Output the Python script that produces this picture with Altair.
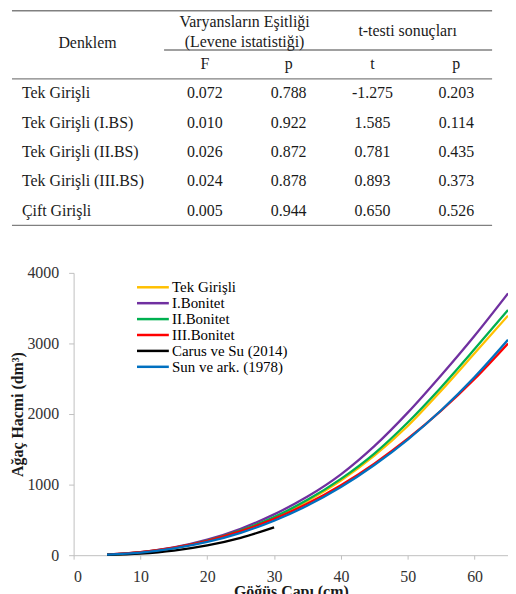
import altair as alt
import pandas as pd

# ---------------- table data ----------------
equations = ["Tek Girişli", "Tek Girişli (I.BS)", "Tek Girişli (II.BS)",
             "Tek Girişli (III.BS)", "Çift Girişli"]
levene_F = ["0.072", "0.010", "0.026", "0.024", "0.005"]
levene_p = ["0.788", "0.922", "0.872", "0.878", "0.944"]
t_values = ["-1.275", "1.585", "0.781", "0.893", "0.650"]
t_p = ["0.203", "0.114", "0.435", "0.373", "0.526"]
col_keys = ["F", "p1", "t", "p2"]
col_labels = ["F", "p", "t", "p"]

# ---------------- chart data ----------------
dbh = [5, 10, 15, 20, 25, 30, 35, 40, 45, 50, 55, 60, 65]
tek_girisli = [7, 38, 101, 201, 343, 529, 766, 1056, 1410, 1830, 2330, 2860, 3394]
bonitet_1 = [8, 42, 110, 220, 375, 578, 830, 1145, 1545, 2020, 2550, 3110, 3710]
bonitet_2 = [7, 39, 103, 206, 351, 541, 784, 1081, 1440, 1880, 2380, 2920, 3475]
bonitet_3 = [9, 42, 106, 204, 340, 514, 731, 991, 1298, 1650, 2048, 2497, 3000]
carus_dbh = [5, 10, 15, 20, 25, 30]
carus_su = [4, 23, 66, 139, 246, 394]
sun_ark = [7, 36, 95, 187, 317, 488, 703, 965, 1277, 1638, 2053, 2524, 3052]

series_names = ["Tek Girişli", "I.Bonitet", "II.Bonitet", "III.Bonitet",
                "Carus ve Su (2014)", "Sun ve ark. (1978)"]
series_colors = ["#FFC000", "#7030A0", "#00B050", "#FF0000", "#000000", "#0070C0"]

FONT = "Liberation Serif"
TXT = "#1a1a1a"
RULE = "#808080"

# ---------------- line chart (first layer: owns axes and legend) ----------------
rows = []
for name, xs, ys in [
    (series_names[0], dbh, tek_girisli),
    (series_names[1], dbh, bonitet_1),
    (series_names[2], dbh, bonitet_2),
    (series_names[3], dbh, bonitet_3),
    (series_names[4], carus_dbh, carus_su),
    (series_names[5], dbh, sun_ark),
]:
    for x, y in zip(xs, ys):
        rows.append({"series": name, "D": x, "V": y})
df = pd.DataFrame(rows)

lines = alt.Chart(df).mark_line(strokeWidth=2.3, interpolate="monotone").encode(
    x=alt.X("D:Q", scale=alt.Scale(domain=[0, 65], nice=False),
            axis=alt.Axis(orient="bottom", values=[0, 10, 20, 30, 40, 50, 60], title="Göğüs Çapı (cm)",
                          tickSize=4, labelPadding=9, titlePadding=0)),
    y=alt.Y("V:Q", scale=alt.Scale(domain=[0, 4000], nice=False),
            axis=alt.Axis(orient="left", values=[0, 1000, 2000, 3000, 4000], format="d",
                          title="Ağaç Hacmi (dm³)", tickSize=5, labelPadding=10, titlePadding=1)),
    color=alt.Color("series:N", sort=series_names,
                    scale=alt.Scale(domain=series_names, range=series_colors),
                    legend=alt.Legend(orient="none", legendX=72.3, legendY=7, title=None,
                                      symbolType="M-4,0L4,0", symbolSize=64, symbolStrokeWidth=2.5,
                                      labelFont=FONT, labelFontSize=15, labelColor="#000",
                                      labelOffset=11.7, rowPadding=0, padding=0)),
)

# ---------------- table (drawn in the space above the plot) ----------------
body_rows = []
for i, eq in enumerate(equations):
    for k, vals in zip(col_keys, [levene_F, levene_p, t_values, t_p]):
        body_rows.append({"eq": eq, "col": k, "val": vals[i]})
body_df = pd.DataFrame(body_rows)
eq_df = pd.DataFrame({"eq": equations})
sub_df = pd.DataFrame({"col": col_keys, "lab": col_labels})

xcol = alt.X("col:N", scale=alt.Scale(type="point", domain=col_keys, range=[132, 385], padding=0), axis=None)
yrow = alt.Y("eq:N", scale=alt.Scale(type="point", domain=equations, range=[-180.7, -62.7], padding=0), axis=None)

body = alt.Chart(body_df).mark_text(font=FONT, fontSize=16, color=TXT, baseline="middle").encode(
    x=xcol, y=yrow, text="val:N")
eq_labels = alt.Chart(eq_df).mark_text(font=FONT, fontSize=16, color=TXT, align="left", baseline="middle").encode(
    x=alt.value(-52), y=yrow, text="eq:N")
sub_hdr = alt.Chart(sub_df).mark_text(font=FONT, fontSize=16, color=TXT, baseline="middle").encode(
    x=xcol, y=alt.value(-209.7), text="lab:N")


def header(txt, x, y):
    return alt.Chart(pd.DataFrame({"t": [txt]})).mark_text(
        font=FONT, fontSize=16, color=TXT, baseline="middle").encode(
        x=alt.value(x), y=alt.value(y), text="t:N")


def hrule(x1, x2, y):
    return alt.Chart(pd.DataFrame({"r": [0]})).mark_rule(color=RULE, strokeWidth=1.3).encode(
        x=alt.value(x1), x2=alt.value(x2), y=alt.value(y))


chart = alt.layer(
    lines,
    hrule(-62, 421, -263.7), hrule(91, 421, -224.2), hrule(-62, 421, -195.2), hrule(-62, 421, -47.7),
    header("Varyansların Eşitliği", 172, -252.7),
    header("(Levene istatistiği)", 172, -232.7),
    header("t-testi sonuçları", 336, -243.7),
    header("Denklem", 14, -231.7),
    sub_hdr, eq_labels, body,
).resolve_scale(x="independent", y="independent").properties(
    width=437, height=284,
    autosize=alt.AutoSizeParams(type="none"),
    padding={"left": 66, "top": 264.7, "right": 0, "bottom": 37.3},
).configure_view(
    stroke=None
).configure_axis(
    labelFont=FONT, labelFontSize=16, labelColor="#333",
    titleFont=FONT, titleFontSize=16, titleFontWeight="bold", titleColor="#1a1a1a",
    domainColor="#BFBFBF", tickColor="#BFBFBF", grid=False,
)

chart.save("out.html", embed_options={"renderer": "svg", "actions": False})
